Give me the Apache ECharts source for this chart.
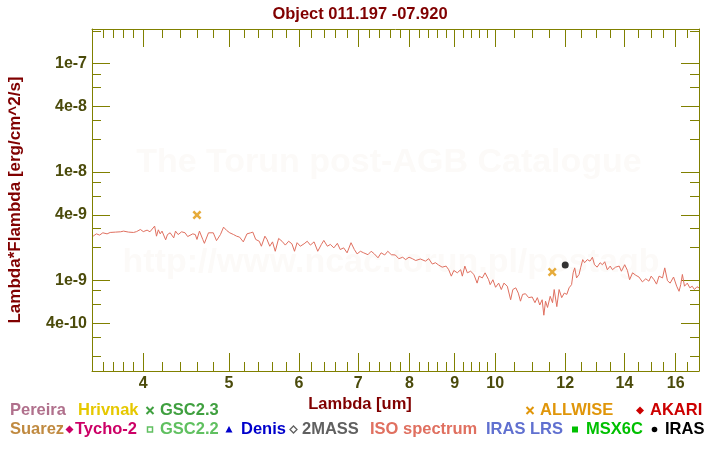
<!DOCTYPE html>
<html>
<head>
<meta charset="utf-8">
<script src="https://cdn.jsdelivr.net/npm/echarts@6.0.0/dist/echarts.min.js"></script>
<style>
  html, body { margin: 0; padding: 0; background: #fff; }
  #sedChart { width: 720px; height: 450px; }
</style>
</head>
<body>
<div id="sedChart"></div>
<script>
// ISO spectrum, wavelength in um, flux in 1e-9 erg/cm^2/s
const isoWave = [
  3.51, 3.54, 3.57, 3.60, 3.64, 3.67, 3.72, 3.77, 3.80, 3.85, 3.90, 3.93, 3.97, 4.00, 4.04, 4.07, 4.09,
  4.12, 4.14, 4.16, 4.18, 4.20, 4.24, 4.26, 4.29, 4.33, 4.35, 4.38, 4.42, 4.46, 4.49, 4.51, 4.55, 4.58,
  4.60, 4.63, 4.67, 4.69, 4.74, 4.76, 4.80, 4.84, 4.89, 4.93, 4.97, 5.01, 5.06, 5.10, 5.14, 5.19, 5.24,
  5.29, 5.32, 5.36, 5.41, 5.44, 5.49, 5.52, 5.56, 5.60, 5.64, 5.69, 5.74, 5.79, 5.84, 5.89, 5.93, 5.97,
  6.02, 6.08, 6.13, 6.18, 6.24, 6.30, 6.36, 6.40, 6.46, 6.51, 6.57, 6.63, 6.68, 6.74, 6.80, 6.87, 6.93,
  6.98, 7.04, 7.10, 7.18, 7.24, 7.30, 7.37, 7.43, 7.50, 7.56, 7.63, 7.71, 7.78, 7.86, 7.92, 7.99, 8.06,
  8.13, 8.23, 8.34, 8.41, 8.49, 8.56, 8.63, 8.71, 8.80, 8.86, 8.92, 8.98, 9.06, 9.14, 9.18, 9.24, 9.30,
  9.38, 9.46, 9.54, 9.59, 9.67, 9.74, 9.83, 9.87, 9.94, 10.01, 10.09, 10.16, 10.23, 10.32, 10.41, 10.47,
  10.55, 10.62, 10.68, 10.74, 10.82, 10.91, 11.01, 11.09, 11.16, 11.23, 11.30, 11.35, 11.40, 11.46, 11.54,
  11.61, 11.66, 11.74, 11.81, 11.89, 11.97, 12.05, 12.12, 12.20, 12.25, 12.30, 12.36, 12.44, 12.49, 12.56,
  12.62, 12.71, 12.80, 12.88, 12.95, 13.04, 13.14, 13.22, 13.30, 13.39, 13.49, 13.57, 13.68, 13.81, 13.89,
  14.01, 14.11, 14.19, 14.30, 14.42, 14.54, 14.67, 14.80, 14.92, 15.01, 15.12, 15.22, 15.32, 15.46, 15.55,
  15.66, 15.77, 15.91, 16.04, 16.14, 16.21, 16.28, 16.37, 16.49, 16.60, 16.70, 16.80, 16.91, 17.00
];
const isoFluxE9 = [
  2.55, 2.68, 2.61, 2.74, 2.68, 2.76, 2.78, 2.80, 2.84, 2.78, 2.76, 2.81, 2.94, 2.81, 2.90, 2.80, 2.86,
  3.16, 2.55, 2.92, 2.68, 2.84, 2.36, 2.64, 2.74, 2.46, 2.84, 2.64, 2.80, 2.74, 2.53, 2.55, 2.68, 2.64,
  2.38, 2.84, 2.38, 2.19, 2.74, 2.68, 2.74, 2.32, 2.64, 3.09, 2.88, 2.74, 2.64, 2.55, 2.50, 2.26, 2.68,
  2.74, 2.78, 2.38, 2.29, 2.06, 2.55, 2.38, 2.06, 2.26, 1.85, 2.43, 2.29, 2.11, 2.29, 2.17, 1.85, 2.22,
  2.06, 2.17, 2.29, 2.11, 2.26, 1.85, 2.14, 2.33, 2.06, 2.14, 1.99, 2.19, 1.92, 1.99, 1.79, 2.22, 1.92,
  1.75, 1.85, 1.79, 1.72, 1.85, 1.75, 1.61, 1.79, 1.71, 1.85, 1.72, 1.71, 1.58, 1.63, 1.55, 1.63, 1.58,
  1.52, 1.57, 1.50, 1.58, 1.41, 1.45, 1.38, 1.32, 1.35, 1.25, 1.09, 1.23, 1.17, 1.25, 1.09, 1.35, 1.17,
  1.21, 1.13, 0.94, 1.09, 1.05, 1.17, 1.01, 0.91, 1.01, 0.86, 0.94, 0.82, 0.94, 0.88, 0.66, 0.82,
  0.85, 0.76, 0.64, 0.74, 0.75, 0.69, 0.70, 0.62, 0.69, 0.59, 0.66, 0.475, 0.64, 0.56, 0.71,
  0.62, 0.82, 0.57, 0.82, 0.69, 0.76, 0.74, 0.85, 0.91, 1.17, 1.30, 1.05, 1.13, 1.30, 1.55,
  1.45, 1.55, 1.50, 1.63, 1.39, 1.32, 1.45, 1.39, 1.48, 1.25, 1.35, 1.25, 1.32, 1.35, 1.21,
  1.39, 1.23, 1.01, 1.17, 1.11, 1.07, 0.965, 1.03, 0.98, 1.09, 1.01, 0.92, 1.09, 1.05, 1.30,
  0.99, 0.94, 1.07, 0.88, 0.79, 0.91, 1.13, 0.88, 0.94, 0.85, 0.88, 0.82, 0.87, 0.85
];

// photometry points
const allwiseWave = [4.6, 11.6];
const allwiseFlux = [4.0e-9, 1.19e-9];
const irasWave = [12];
const irasFlux = [1.38e-9];

// axes
const xRange = [3.5, 17];
const yRange = [1.45e-10, 2.09e-7];
const xMajorTicks = [4, 5, 6, 7, 8, 9, 10, 12, 14, 16];
const xMinorTicks = [3.6, 3.7, 3.8, 3.9, 4.2, 4.4, 4.6, 4.8, 5.2, 5.4, 5.6, 5.8, 6.2, 6.4, 6.6, 6.8,
  7.2, 7.4, 7.6, 7.8, 8.2, 8.4, 8.6, 8.8, 9.2, 9.4, 9.6, 9.8, 10.5, 11, 11.5, 12.5, 13, 13.5,
  14.5, 15, 15.5, 16.5];
const yMajorTicks = [4e-10, 1e-9, 4e-9, 1e-8, 4e-8, 1e-7];
const yMajorLabels = ['4e-10', '1e-9', '4e-9', '1e-8', '4e-8', '1e-7'];
const yMinorTicks = [2e-10, 3e-10, 6e-10, 8e-10, 2e-9, 3e-9, 6e-9, 8e-9, 2e-8, 3e-8, 6e-8, 8e-8, 2e-7];

// legend
const legendNames = ['Pereira', 'Hrivnak', 'GSC2.3', 'ALLWISE', 'AKARI',
  'Suarez', 'Tycho-2', 'GSC2.2', 'Denis', '2MASS', 'ISO spectrum', 'IRAS LRS', 'MSX6C', 'IRAS'];
const legendColors = ['#b0708c', '#e6c800', '#40a040', '#e0960a', '#cc0000',
  '#c08a40', '#cc0066', '#60c060', '#0000cc', '#606060', '#e07060', '#6070d0', '#00c000', '#000000'];
const legendMarkers = ['', '', 'cross', 'cross', 'diamond',
  '', 'diamond', 'square', 'triangle', 'hollowDiamond', '', '', 'filledSquare', 'circle'];
const legendTextX = [10, 78, 160, 540, 650, 10, 75, 160, 241, 302, 370, 486, 586, 665];
const legendMarkX = [0, 0, 150, 530, 640, 0, 69.5, 150, 229, 293.5, 0, 0, 575, 654.5];
const legendRow = [0, 0, 0, 0, 0, 1, 1, 1, 1, 1, 1, 1, 1, 1];
const rowY = [410, 429];

const lg = Math.log10;
const axisColor = '#808000';
const labelColor = '#4b4b0b';
const nameColor = '#800000';
const fontFam = '"Liberation Sans", Arial, sans-serif';
const markColor = '#fcfaf8';

function markerShape(kind, cx, cy, color) {
  if (kind === 'cross') {
    return [
      { type: 'line', shape: { x1: cx - 3.5, y1: cy - 3.5, x2: cx + 3.5, y2: cy + 3.5 }, style: { stroke: color, lineWidth: 2 } },
      { type: 'line', shape: { x1: cx - 3.5, y1: cy + 3.5, x2: cx + 3.5, y2: cy - 3.5 }, style: { stroke: color, lineWidth: 2 } }
    ];
  }
  if (kind === 'diamond') {
    return [{ type: 'polygon', shape: { points: [[cx, cy - 4], [cx + 4, cy], [cx, cy + 4], [cx - 4, cy]] }, style: { fill: color } }];
  }
  if (kind === 'hollowDiamond') {
    return [{ type: 'polygon', shape: { points: [[cx, cy - 3.5], [cx + 3.5, cy], [cx, cy + 3.5], [cx - 3.5, cy]] }, style: { fill: '#fff', stroke: color, lineWidth: 1.3 } }];
  }
  if (kind === 'square') {
    return [{ type: 'rect', shape: { x: cx - 2.5, y: cy - 2.5, width: 5, height: 5 }, style: { fill: '#fff', stroke: color, lineWidth: 1.5 } }];
  }
  if (kind === 'filledSquare') {
    return [{ type: 'rect', shape: { x: cx - 3, y: cy - 3, width: 6, height: 6 }, style: { fill: color } }];
  }
  if (kind === 'triangle') {
    return [{ type: 'polygon', shape: { points: [[cx, cy - 3.5], [cx + 3.5, cy + 3], [cx - 3.5, cy + 3]] }, style: { fill: color } }];
  }
  if (kind === 'circle') {
    return [{ type: 'circle', shape: { cx: cx, cy: cy, r: 2.8 }, style: { fill: color } }];
  }
  return [];
}

let graphics = [
  {
    type: 'text', x: 389, y: 163, z: 0,
    style: { text: 'The Torun post-AGB Catalogue', align: 'center', verticalAlign: 'middle',
      font: 'bold 34px ' + fontFam, fill: markColor }
  },
  {
    type: 'text', x: 391, y: 263, z: 0,
    style: { text: 'http://www.ncac.torun.pl/postagb', align: 'center', verticalAlign: 'middle',
      font: 'bold 34px ' + fontFam, fill: markColor }
  },
  {
    // x axis title, centred on the page like the original
    type: 'text', x: 360, y: 404,
    style: { text: 'Lambda [um]', align: 'center', verticalAlign: 'middle',
      font: 'bold 16.5px ' + fontFam, fill: nameColor }
  }
];
for (let i = 0; i < legendNames.length; i++) {
  let y = rowY[legendRow[i]];
  graphics.push({
    type: 'text', x: legendTextX[i], y: y,
    style: { text: legendNames[i], align: 'left', verticalAlign: 'middle',
      font: 'bold 16.5px ' + fontFam, fill: legendColors[i] }
  });
  graphics = graphics.concat(markerShape(legendMarkers[i], legendMarkX[i], y + 0.5, legendColors[i]));
}

function tickAxis(pos, major) {
  let vertical = pos === 'left' || pos === 'right';
  return {
    type: 'value',
    position: pos,
    min: vertical ? lg(yRange[0]) : lg(xRange[0]),
    max: vertical ? lg(yRange[1]) : lg(xRange[1]),
    splitLine: { show: false },
    axisLine: { show: major, lineStyle: { color: axisColor, width: 1 } },
    axisTick: {
      show: true, inside: true, length: major ? 18 : 9,
      lineStyle: { color: axisColor, width: 1 },
      customValues: vertical
        ? (major ? yMajorTicks : yMinorTicks).map(lg)
        : (major ? xMajorTicks : xMinorTicks).map(lg)
    },
    axisLabel: { show: false }
  };
}

let xBottom = tickAxis('bottom', true);
xBottom.axisLabel = {
  show: true, customValues: xMajorTicks.map(lg), margin: 5,
  color: labelColor, fontWeight: 'bold', fontSize: 16, fontFamily: fontFam,
  formatter: function (v) {
    for (let i = 0; i < xMajorTicks.length; i++) {
      if (Math.abs(lg(xMajorTicks[i]) - v) < 1e-6) return String(xMajorTicks[i]);
    }
    return '';
  }
};

let yLeft = tickAxis('left', true);
yLeft.axisLabel = {
  show: true, customValues: yMajorTicks.map(lg), margin: 5,
  color: labelColor, fontWeight: 'bold', fontSize: 16, fontFamily: fontFam,
  formatter: function (v) {
    for (let i = 0; i < yMajorTicks.length; i++) {
      if (Math.abs(lg(yMajorTicks[i]) - v) < 1e-6) return yMajorLabels[i];
    }
    return '';
  }
};
yLeft.name = 'Lambda*Flambda [erg/cm^2/s]';
yLeft.nameLocation = 'middle';
yLeft.nameGap = 68;
yLeft.nameTextStyle = { color: nameColor, fontWeight: 'bold', fontSize: 17, fontFamily: fontFam };

let myChart = echarts.init(document.getElementById('sedChart'), null, { renderer: 'canvas' });
let options = {
  backgroundColor: '#ffffff',
  animation: false,
  title: {
    text: 'Object 011.197 -07.920',
    left: 'center', top: 1,
    textStyle: { color: nameColor, fontWeight: 'bold', fontSize: 16.5, fontFamily: fontFam }
  },
  grid: { left: 92, right: 21, top: 29, bottom: 79, containLabel: false, outerBoundsMode: 'none' },
  xAxis: [xBottom, tickAxis('bottom', false), tickAxis('top', true), tickAxis('top', false)],
  yAxis: [yLeft, tickAxis('left', false), tickAxis('right', true), tickAxis('right', false)],
  graphic: graphics,
  series: [
    {
      name: 'ISO spectrum',
      type: 'line',
      data: isoWave.map((w, i) => [lg(w), lg(isoFluxE9[i] * 1e-9)]),
      showSymbol: false,
      lineStyle: { color: '#e07060', width: 1 },
      z: 3
    },
    {
      name: 'ALLWISE',
      type: 'scatter',
      data: allwiseWave.map((w, i) => [lg(w), lg(allwiseFlux[i])]),
      symbol: 'path://M0,2L2,0L5,3L8,0L10,2L7,5L10,8L8,10L5,7L2,10L0,8L3,5Z',
      symbolSize: 9,
      itemStyle: { color: '#e0960a' },
      z: 4
    },
    {
      name: 'IRAS',
      type: 'scatter',
      data: irasWave.map((w, i) => [lg(w), lg(irasFlux[i])]),
      symbol: 'circle',
      symbolSize: 7,
      itemStyle: { color: '#000000' },
      z: 4
    }
  ]
};
myChart.setOption(options);
</script>
</body>
</html>
